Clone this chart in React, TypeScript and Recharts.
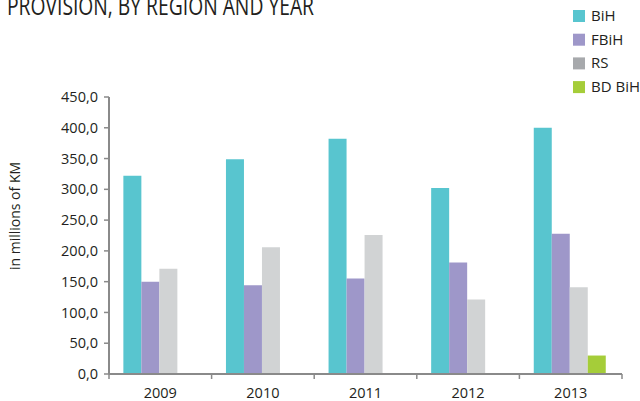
import { Bar, BarChart, XAxis, YAxis } from "recharts";

const years = ["2009", "2010", "2011", "2012", "2013"];
const bih = [322, 349, 382, 302, 400];
const fbih = [150, 144, 155, 181, 228];
const rs = [171, 206, 226, 121, 141];
const bdBih = [null, null, null, null, 30];
const yTicks = [0, 50, 100, 150, 200, 250, 300, 350, 400, 450];

const series = [
  { key: "BiH", label: "BiH", fill: "#58c5cf", swatch: "#58c5cf" },
  { key: "FBiH", label: "FBiH", fill: "#9e97c9", swatch: "#9e97c9" },
  { key: "RS", label: "RS", fill: "#d1d3d4", swatch: "#a7a9ac" },
  { key: "BD", label: "BD BiH", fill: "#a5cd39", swatch: "#a5cd39" },
];

const data = years.map((year, i) => ({
  year,
  BiH: bih[i],
  FBiH: fbih[i],
  RS: rs[i],
  BD: bdBih[i],
}));

const FONT = "'Open Sans', sans-serif";
const TEXT = "#231f20";
const AXIS = "#8a8a8a";
const PLOT_LEFT = 109;
const PLOT_RIGHT = 622;
const BAND = (PLOT_RIGHT - PLOT_LEFT) / years.length;

const fmt = (v: number) => v.toFixed(1).replace(".", ",");

function YearTick(props: any) {
  const { x, y, payload, index } = props;
  return (
    <g>
      <line x1={x - BAND / 2} x2={x - BAND / 2} y1={y} y2={y + 5} stroke={AXIS} strokeWidth={1.5} />
      {index === years.length - 1 && (
        <line x1={x + BAND / 2} x2={x + BAND / 2} y1={y} y2={y + 5} stroke={AXIS} strokeWidth={1.5} />
      )}
      <text x={x} y={y + 24} textAnchor="middle" fontFamily={FONT} fontSize={14.5} fill={TEXT}>
        {payload.value}
      </text>
    </g>
  );
}

export default function App() {
  return (
    <div style={{ position: "absolute", top: 0, left: 0, width: 640, height: 401, background: "#fff", overflow: "hidden" }}>
      <BarChart
        width={640}
        height={401}
        data={data}
        margin={{ top: 97, right: 640 - PLOT_RIGHT, left: 0, bottom: 0 }}
        barCategoryGap="14%"
        barGap={0}
      >
        <XAxis
          dataKey="year"
          height={27}
          tick={<YearTick />}
          tickLine={false}
          tickSize={0}
          tickMargin={0}
          axisLine={{ stroke: AXIS, strokeWidth: 2 }}
          interval={0}
        />
        <YAxis
          width={PLOT_LEFT}
          domain={[0, 450]}
          ticks={yTicks}
          interval={0}
          tickFormatter={fmt}
          tick={{ fontFamily: FONT, fontSize: 14.5, fill: TEXT }}
          tickSize={5}
          tickMargin={6}
          tickLine={{ stroke: AXIS, strokeWidth: 1.5 }}
          axisLine={{ stroke: AXIS, strokeWidth: 2 }}
          label={{
            content: () => (
              <text
                x={20}
                y={216}
                transform="rotate(-90 20 216)"
                textAnchor="middle"
                fontFamily={FONT}
                fontSize={14}
                fill={TEXT}
              >
                in millions of KM
              </text>
            ),
          }}
        />
        {series.map((s) => (
          <Bar key={s.key} dataKey={s.key} name={s.label} fill={s.fill} isAnimationActive={false} />
        ))}
      </BarChart>
      <svg width={640} height={401} style={{ position: "absolute", top: 0, left: 0, pointerEvents: "none" }}>
        <text x={7} y={15} fontFamily={FONT} fontSize={26} fill={TEXT} textLength={307} lengthAdjust="spacingAndGlyphs">
          PROVISION, BY REGION AND YEAR
        </text>
        {series.map((s, i) => (
          <g key={s.key}>
            <rect x={573} y={10 + i * 23.7} width={12} height={12} fill={s.swatch} />
            <text x={591} y={21 + i * 23.7} fontFamily={FONT} fontSize={15} fill={TEXT}>
              {s.label}
            </text>
          </g>
        ))}
      </svg>
    </div>
  );
}
